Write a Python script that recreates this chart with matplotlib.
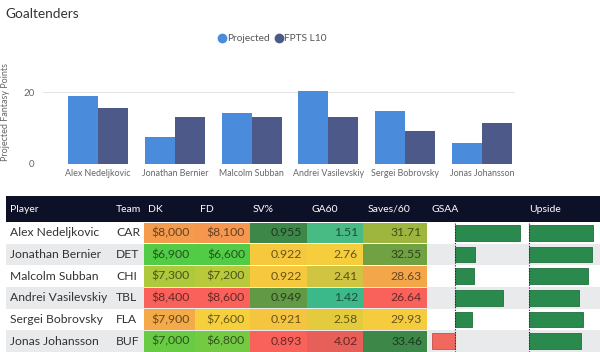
import matplotlib
matplotlib.use("Agg")
import matplotlib.pyplot as plt
import numpy as np
from matplotlib.colors import LinearSegmentedColormap, Normalize, to_rgb
from matplotlib.lines import Line2D
from matplotlib.patches import Rectangle

plt.rcParams["font.family"] = ["Lato", "DejaVu Sans"]

# ---- data ----
players = ["Alex Nedeljkovic", "Jonathan Bernier", "Malcolm Subban",
           "Andrei Vasilevskiy", "Sergei Bobrovsky", "Jonas Johansson"]
chart_names = ["Alex Nedeljkovic", "Jonathan Bernier", "Malcolm Subban",
               "Andrei Vasilevskiy", "Sergei Bobrovsky", "Jonas Johansson"]
projected = [18.9, 7.6, 14.1, 20.3, 14.9, 5.9]
fpts_l10 = [15.5, 13.0, 13.0, 13.2, 9.3, 11.3]

teams = ["CAR", "DET", "CHI", "TBL", "FLA", "BUF"]
dk = [8000, 6900, 7300, 8400, 7900, 7000]
fd = [8100, 6600, 7200, 8600, 7600, 6800]
sv_pct = [0.955, 0.922, 0.922, 0.949, 0.921, 0.893]
ga60 = [1.51, 2.76, 2.41, 1.42, 2.58, 4.02]
saves60 = [31.71, 32.55, 28.63, 26.64, 29.93, 33.46]
gsaa = [6.5, 2.0, 1.9, 4.8, 1.7, -2.3]
upside = [32.0, 31.5, 29.5, 25.0, 27.0, 26.0]

headers = ["Player", "Team", "DK", "FD", "SV%", "GA60", "Saves/60", "GSAA", "Upside"]

W, H = 600, 352
fig = plt.figure(figsize=(W / 100, H / 100), dpi=100)


def px_axes(x0, y0, x1, y1):
    """axes from pixel box (top-left origin)"""
    return fig.add_axes([x0 / W, 1 - y1 / H, (x1 - x0) / W, (y1 - y0) / H])


# ---- bar chart ----
fig.text(5 / W, 1 - 14 / H, "Goaltenders", fontsize=9.8, color="#333333", va="center")

ax = px_axes(43, 60, 515, 164)
x = np.arange(len(chart_names))
bw = 0.39
c_proj, c_fpts = "#4a8cdb", "#4d5a89"
ax.bar(x - bw / 2, projected, bw, color=c_proj)
ax.bar(x + bw / 2, fpts_l10, bw, color=c_fpts)
ax.set_xlim(-0.716, 5.43)
ax.set_ylim(0, 29)
ax.set_yticks([0, 20])
ax.yaxis.grid(True, color="#e6e6e6", lw=0.8)
ax.set_axisbelow(True)
for s in ax.spines.values():
    s.set_visible(False)
ax.tick_params(axis="both", length=0, labelsize=7, labelcolor="#666666")
ax.tick_params(axis="y", pad=6)
ax.set_xticks(x)
ax.set_xticklabels(chart_names, fontsize=6.4)
ax.set_ylabel("Projected Fantasy Points", fontsize=6.5, color="#666666", labelpad=10)
handles = [Line2D([], [], ls="", marker="o", ms=6, color=c_proj),
           Line2D([], [], ls="", marker="o", ms=6, color=c_fpts)]
ax.legend(handles, ["Projected", "FPTS L10"], loc="lower center",
          bbox_to_anchor=(0.485, 1.12), ncol=2, frameon=False,
          fontsize=7.3, labelcolor="#555555", handlelength=0.8,
          handletextpad=0.1, columnspacing=0.5, borderaxespad=0)

# ---- table ----
head_top, head_bot, tab_bot = 196, 222, 352
nrows = len(players)
rh = (tab_bot - head_bot) / nrows
cols = [6, 114, 144, 195, 250, 307, 363, 427, 527, 600]

tx = px_axes(0, head_top, W, tab_bot)
tx.set_xlim(0, W)
tx.set_ylim(tab_bot, head_top)
tx.axis("off")
tx.add_patch(Rectangle((cols[0], head_top), W - cols[0], head_bot - head_top,
                       color="#0d1127", lw=0))
head_x = [10, 116, 148, 200, 253, 311, 368, 431, 529]
for hx, h in zip(head_x, headers):
    tx.text(hx, (head_top + head_bot) / 2, h, color="white", fontsize=7.5, va="center")

for i in range(nrows):
    y0 = head_bot + i * rh
    bg = "#e9eaec" if i % 2 else "white"
    tx.add_patch(Rectangle((cols[0], y0), W - cols[0], rh, color=bg, lw=0))
    yc = y0 + rh / 2
    tx.text(10, yc, players[i], fontsize=8.7, color="#333333", va="center")
    tx.text(116, yc, teams[i], fontsize=8.7, color="#333333", va="center")

cost_cmap = LinearSegmentedColormap.from_list(
    "cost", [(0, "#52cc47"), (0.25, "#a9c93c"), (0.5, "#f5d03c"),
             (0.7, "#f4a24c"), (1, "#f9615a")])
good_cmap = LinearSegmentedColormap.from_list(
    "good", [(0, "#f9625a"), (0.27, "#f4a24c"), (0.5, "#f5cf3c"),
             (0.75, "#9cb63e"), (1, "#3d8848")])
ga_cmap = LinearSegmentedColormap.from_list(
    "ga", [(0, "#e65f58"), (0.5, "#f5d03c"), (0.65, "#c6c141"), (1, "#3cb98a")])

heat_cols = [
    (dk, cost_cmap, False, lambda v: f"${v:,.0f}"),
    (fd, cost_cmap, False, lambda v: f"${v:,.0f}"),
    (sv_pct, good_cmap, False, lambda v: f"{v:.3f}"),
    (ga60, ga_cmap, True, lambda v: f"{v:.2f}"),
    (saves60, good_cmap, False, lambda v: f"{v:.2f}"),
]
for j, (vals, cmap, rev, fmt) in enumerate(heat_cols):
    x0, x1 = cols[j + 2], cols[j + 3]
    norm = Normalize(min(vals), max(vals))
    for i, v in enumerate(vals):
        t = norm(v)
        if rev:
            t = 1 - t
        c = np.array(to_rgb(cmap(t)))
        y0 = head_bot + i * rh
        tx.add_patch(Rectangle((x0, y0 + 0.5), x1 - x0, rh - 1, color=c, lw=0))
        tx.text(x1 - 5, y0 + rh / 2, fmt(v), fontsize=8.8, color=c * 0.42,
                ha="right", va="center")

# data bars
ypos = np.arange(nrows)
ga = px_axes(427, head_bot, 527, tab_bot)
ga.barh(ypos, gsaa, height=0.72,
        color=["#2a8a4e" if v >= 0 else "#f0685e" for v in gsaa],
        edgecolor=["#1f6e3c" if v >= 0 else "#c85048" for v in gsaa], lw=0.6)
ga.set_xlim(-2.8, 7.2)
ga.axvline(0, color="#222222", lw=0.8, ls=(0, (1, 1.5)))

up = px_axes(527, head_bot, 600, tab_bot)
up.barh(ypos, upside, height=0.72, color="#2a8a4e", edgecolor="#1f6e3c", lw=0.6)
up.set_xlim(-1, 35.5)
up.axvline(0, color="#222222", lw=0.8, ls=(0, (1, 1.5)))

for a in (ga, up):
    a.set_ylim(nrows - 0.5, -0.5)
    a.patch.set_alpha(0)
    a.set_xticks([])
    a.set_yticks([])
    for s in a.spines.values():
        s.set_visible(False)

fig.savefig("out.png", dpi=100)
